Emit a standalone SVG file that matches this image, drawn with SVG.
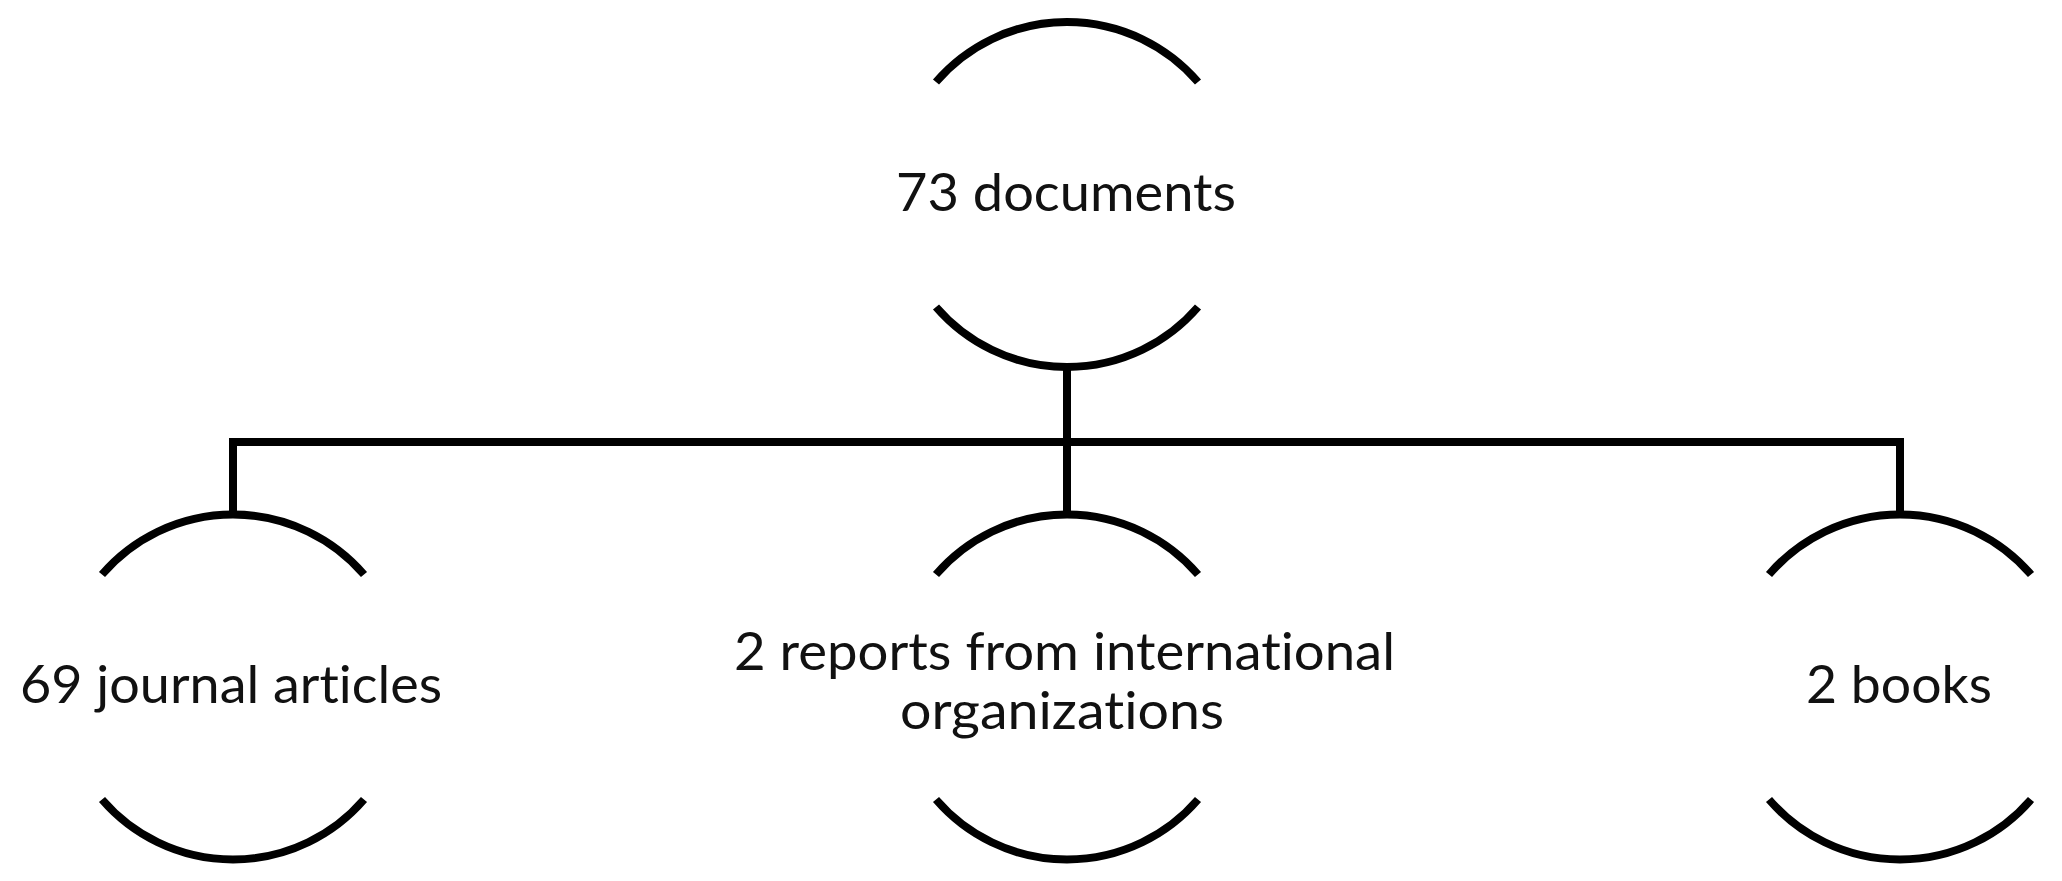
<svg xmlns="http://www.w3.org/2000/svg" width="2062" height="881" viewBox="0 0 2062 881">
<style>
.arc{fill:none;stroke:#000;stroke-width:8;stroke-linecap:butt}
.conn{fill:none;stroke:#000;stroke-width:8;stroke-linejoin:miter}
.lbl{font-family:Lato,"Open Sans","Liberation Sans",sans-serif;font-size:53px;fill:#111;font-variant-ligatures:none;font-feature-settings:"liga" 0,"clig" 0}
</style>
<rect width="2062" height="881" fill="#fff"/>
<g id="connectors">
<path class="conn" d="M1067,367 V513"/>
<path class="conn" d="M233,513 V442 H1900 V513"/>
</g>
<g id="node-root">
<path class="arc" d="M936,82 A173,173 0 0 1 1198,82"/>
<path class="arc" d="M936,307 A173,173 0 0 0 1198,307"/>
<text class="lbl" x="896" y="211" textLength="340" lengthAdjust="spacingAndGlyphs">73 documents</text>
</g>
<g id="node-journals">
<path class="arc" d="M102,574.5 A173,173 0 0 1 364,574.5"/>
<path class="arc" d="M102,799.5 A173,173 0 0 0 364,799.5"/>
<text class="lbl" x="20" y="703" textLength="422" lengthAdjust="spacingAndGlyphs">69 journal articles</text>
</g>
<g id="node-reports">
<path class="arc" d="M936,574.5 A173,173 0 0 1 1198,574.5"/>
<path class="arc" d="M936,799.5 A173,173 0 0 0 1198,799.5"/>
<text class="lbl" x="734" y="670" textLength="661" lengthAdjust="spacingAndGlyphs">2 reports from international</text>
<text class="lbl" x="900" y="729" textLength="324" lengthAdjust="spacingAndGlyphs">organizations</text>
</g>
<g id="node-books">
<path class="arc" d="M1769,574.5 A173,173 0 0 1 2031,574.5"/>
<path class="arc" d="M1769,799.5 A173,173 0 0 0 2031,799.5"/>
<text class="lbl" x="1806" y="703" textLength="186" lengthAdjust="spacingAndGlyphs">2 books</text>
</g>
</svg>
